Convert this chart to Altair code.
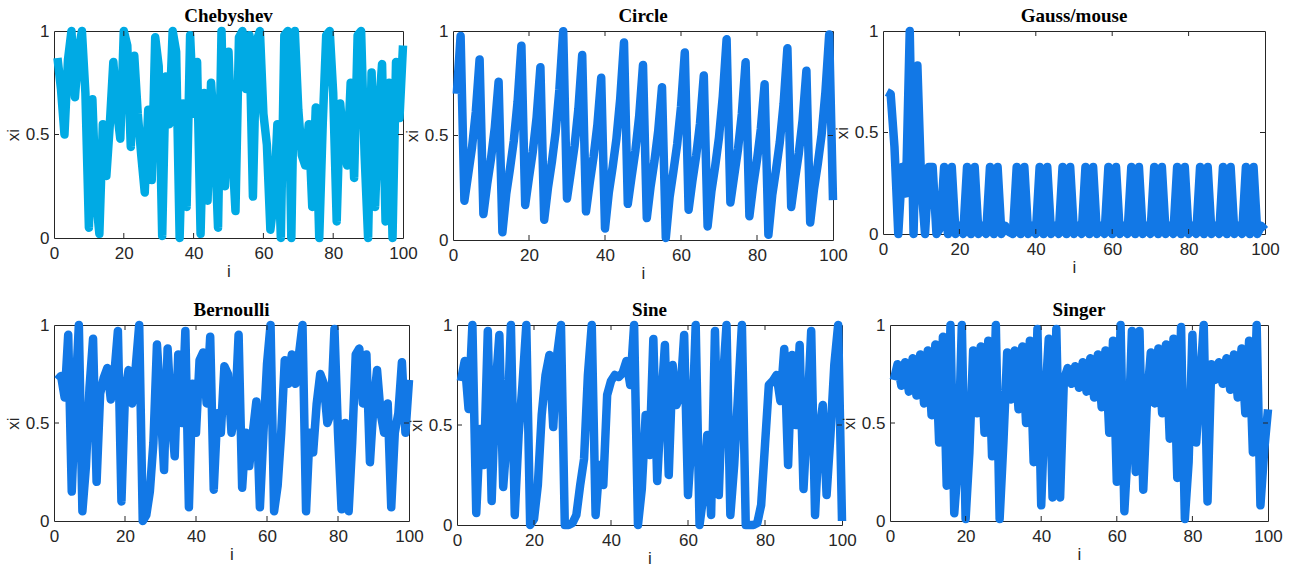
import altair as alt
import pandas as pd

idx = list(range(1, 101))

chebyshev = [
    0.87, 0.72, 0.50, 0.86, 1.00, 0.68, 0.90, 1.00, 0.70, 0.05,
    0.67, 0.20, 0.02, 0.55, 0.30, 0.55, 0.85, 0.62, 0.48, 1.00,
    0.93, 0.44, 0.88, 0.60, 0.40, 0.22, 0.62, 0.28, 0.97, 0.83,
    0.01, 0.78, 0.55, 1.00, 0.90, 0.00, 0.65, 0.15, 0.98, 0.60,
    0.85, 0.02, 0.70, 0.18, 0.75, 0.50, 0.05, 1.00, 0.25, 0.90,
    0.45, 0.13, 0.97, 1.00, 0.72, 0.98, 0.20, 0.95, 1.00, 0.60,
    0.45, 0.04, 0.18, 0.55, 0.00, 0.98, 1.00, 0.00, 1.00, 0.62,
    0.40, 0.35, 0.55, 0.15, 0.63, 0.00, 0.55, 0.98, 1.00, 0.70,
    0.08, 0.65, 0.45, 0.35, 0.75, 0.29, 0.98, 1.00, 0.40, 0.00,
    0.80, 0.15, 0.60, 0.84, 0.08, 0.75, 0.00, 0.85, 0.58, 0.93,
]

circle = [
    0.700, 0.976, 0.188, 0.315, 0.442, 0.613, 0.864, 0.124, 0.268, 0.389,
    0.538, 0.757, 0.037, 0.219, 0.341, 0.475, 0.663, 0.930, 0.168, 0.299,
    0.423, 0.586, 0.827, 0.097, 0.251, 0.371, 0.514, 0.721, 0.999, 0.199,
    0.323, 0.452, 0.628, 0.885, 0.137, 0.277, 0.399, 0.551, 0.776, 0.055,
    0.227, 0.348, 0.483, 0.675, 0.945, 0.173, 0.303, 0.428, 0.593, 0.837,
    0.105, 0.256, 0.376, 0.521, 0.731, 0.010, 0.205, 0.328, 0.458, 0.637,
    0.897, 0.145, 0.282, 0.404, 0.558, 0.787, 0.065, 0.233, 0.354, 0.491,
    0.687, 0.960, 0.180, 0.308, 0.434, 0.602, 0.850, 0.114, 0.262, 0.383,
    0.530, 0.745, 0.025, 0.213, 0.336, 0.468, 0.652, 0.917, 0.158, 0.292,
    0.415, 0.574, 0.810, 0.084, 0.244, 0.364, 0.504, 0.706, 0.983, 0.191,
]

gauss = [
    0.70, 0.69, 0.43, 0.00, 0.33, 0.20, 1.00, 0.00, 0.83, 0.25,
    0.00, 0.33, 0.33, 0.00, 0.03,
    0.33, 0.00, 0.33, 0.00, 0.04, 0.00,
    0.33, 0.00, 0.33, 0.00, 0.04, 0.00,
    0.33, 0.00, 0.33, 0.00, 0.04, 0.01, 0.00,
    0.33, 0.00, 0.33, 0.00, 0.04, 0.00,
    0.33, 0.00, 0.33, 0.00, 0.04, 0.00,
    0.33, 0.00, 0.33, 0.00, 0.04, 0.00,
    0.33, 0.00, 0.33, 0.00, 0.04, 0.00,
    0.33, 0.00, 0.33, 0.00, 0.04, 0.00,
    0.33, 0.00, 0.33, 0.00, 0.04, 0.00,
    0.33, 0.00, 0.33, 0.00, 0.04, 0.00,
    0.33, 0.00, 0.33, 0.00, 0.04, 0.00,
    0.33, 0.00, 0.33, 0.00, 0.04, 0.00,
    0.33, 0.00, 0.33, 0.00, 0.04, 0.00,
    0.33, 0.00, 0.33, 0.00, 0.04, 0.02,
]

bernoulli = [
    0.72, 0.74, 0.63, 0.95, 0.15, 0.62, 1.00, 0.05, 0.28, 0.68,
    0.93, 0.20, 0.65, 0.73, 0.78, 0.62, 0.75, 0.97, 0.10, 0.65,
    0.77, 0.60, 0.78, 1.00, 0.00, 0.03, 0.15, 0.40, 0.90, 0.60,
    0.26, 0.88, 0.55, 0.33, 0.85, 0.50, 0.97, 0.07, 0.70, 0.45,
    0.82, 0.86, 0.60, 0.94, 0.16, 0.55, 0.45, 0.79, 0.75, 0.45,
    0.55, 0.95, 0.17, 0.45, 0.28, 0.45, 0.61, 0.07, 0.45, 0.80,
    1.00, 0.05, 0.18, 0.45, 0.82, 0.70, 0.85, 0.70, 0.85, 1.00,
    0.05, 0.45, 0.35, 0.60, 0.75, 0.70, 0.50, 0.55, 0.98, 0.45,
    0.06, 0.50, 0.05, 0.40, 0.85, 0.88, 0.60, 0.85, 0.30, 0.59,
    0.77, 0.55, 0.45, 0.60, 0.07, 0.45, 0.55, 0.81, 0.45, 0.72,
]

sine = [
    0.72, 0.82, 0.58, 1.00, 0.06, 0.48, 0.30, 0.97, 0.12, 0.68,
    0.95, 0.19, 0.45, 1.00, 0.05, 0.45, 0.70, 1.00, 0.00, 0.03,
    0.20, 0.55, 0.75, 0.85, 0.49, 0.85, 1.00, 0.00, 0.00, 0.01,
    0.05, 0.20, 0.33, 0.75, 1.00, 0.05, 0.30, 0.20, 0.65, 0.72,
    0.75, 0.74, 0.76, 0.82, 0.70, 1.00, 0.00, 0.18, 0.55, 0.35,
    0.93, 0.22, 0.60, 0.90, 0.25, 0.80, 0.60, 0.65, 0.95, 0.15,
    0.45, 1.00, 0.00, 0.15, 0.45, 0.05, 0.97, 0.15, 0.70, 1.00,
    0.05, 0.30, 0.65, 1.00, 0.00, 0.00, 0.00, 0.01, 0.10, 0.40,
    0.70, 0.72, 0.75, 0.62, 0.88, 0.30, 0.85, 0.50, 0.90, 0.18,
    0.55, 0.97, 0.05, 0.45, 0.60, 0.15, 0.45, 0.80, 1.00, 0.02,
]

singer = [
    0.72, 0.80, 0.69, 0.81, 0.66, 0.83, 0.64, 0.85, 0.60, 0.87,
    0.54, 0.90, 0.40, 0.94, 0.18, 1.00, 0.04, 0.30, 1.00, 0.01,
    0.35, 0.87, 0.55, 0.89, 0.45, 0.92, 0.33, 1.00, 0.01, 0.40,
    0.86, 0.62, 0.87, 0.57, 0.89, 0.50, 0.92, 0.30, 0.98, 0.08,
    0.60, 0.93, 0.12, 0.98, 0.12, 0.72, 0.78, 0.70, 0.79, 0.68,
    0.81, 0.66, 0.83, 0.63, 0.85, 0.58, 0.87, 0.45, 0.92, 0.20,
    1.00, 0.05, 0.40, 0.97, 0.25, 0.97, 0.16, 0.62, 0.86, 0.60,
    0.88, 0.55, 0.90, 0.42, 0.93, 0.22, 0.99, 0.01, 0.30, 0.95,
    0.40, 0.70, 1.00, 0.10, 0.80, 0.72, 0.81, 0.70, 0.83, 0.67,
    0.85, 0.63, 0.88, 0.55, 0.92, 0.35, 1.00, 0.08, 0.36, 0.57,
]

for s in (chebyshev, circle, gauss, bernoulli, sine, singer):
    assert len(s) == 100, len(s)

x_ticks = [0, 20, 40, 60, 80, 100]
y_ticks = [0, 0.5, 1]
inner_x = [20, 40, 60, 80]

FONT = "Liberation Sans"
SERIF = "Liberation Serif"
INK = "#262626"
CYAN = "#00AAE4"
BLUE = "#1278E6"


def panel(name, values, color, w, h, toff):
    df = pd.DataFrame({"i": idx, "xi": values})
    xs = alt.Scale(domain=[0, 100], nice=False, zero=False)
    ys = alt.Scale(domain=[0, 1], nice=False, zero=False)
    ax_x = alt.Axis(values=x_ticks, title="i", format="d",
                    labelFlush=False, labelPadding=7, titlePadding=2)
    ax_y = alt.Axis(values=y_ticks, title="xi", format="~f",
                    labelPadding=5, titlePadding=3)
    tl_y = 5.0 / h
    tl_x = 5.0 * 100 / w
    tick_x = pd.DataFrame({
        "t": inner_x * 2,
        "a": [0] * 4 + [1] * 4,
        "b": [tl_y] * 4 + [1 - tl_y] * 4,
    })
    tick_y = pd.DataFrame({"t": [0.5, 0.5], "a": [0, 100], "b": [tl_x, 100 - tl_x]})
    line = alt.Chart(df).mark_line(
        color=color, strokeWidth=8.5, strokeJoin="round"
    ).encode(
        x=alt.X("i:Q", scale=xs, axis=ax_x),
        y=alt.Y("xi:Q", scale=ys, axis=ax_y),
    )
    rx = alt.Chart(tick_x).mark_rule(color=INK, strokeWidth=1).encode(
        x=alt.X("t:Q", scale=xs, axis=ax_x),
        y=alt.Y("a:Q", scale=ys, axis=ax_y),
        y2="b:Q",
    )
    ry = alt.Chart(tick_y).mark_rule(color=INK, strokeWidth=1).encode(
        y=alt.Y("t:Q", scale=ys, axis=ax_y),
        x=alt.X("a:Q", scale=xs, axis=ax_x),
        x2="b:Q",
    )
    return alt.layer(line, rx, ry).properties(
        width=w, height=h,
        title=alt.TitleParams(name, offset=toff),
    )


row1 = alt.hconcat(
    panel("Chebyshev", chebyshev, CYAN, 349, 207, -4),
    panel("Circle", circle, BLUE, 380, 209, -4),
    panel("Gauss/mouse", gauss, BLUE, 382, 203, -4),
    spacing=50, bounds="flush",
)
row2 = alt.hconcat(
    panel("Bernoulli", bernoulli, BLUE, 355, 196, -4),
    panel("Sine", sine, BLUE, 385, 200, -4),
    panel("Singer", singer, BLUE, 378, 196, -4),
    spacing=48, bounds="flush",
)

chart = alt.vconcat(row1, row2, spacing=18).properties(
    padding={"left": 3, "top": 6, "right": 5, "bottom": 0},
    background="white",
).configure_view(
    stroke=INK, strokeWidth=1,
).configure_axis(
    domain=False, ticks=False, tickSize=0, grid=False,
    labelFont=FONT, labelFontSize=17, labelColor=INK,
    titleFont=FONT, titleFontSize=17, titleFontWeight="normal", titleColor=INK,
).configure_title(
    font=SERIF, fontSize=19, fontWeight="bold", color="black",
    anchor="middle", frame="group",
)

chart.save("out.html", embed_options={"renderer": "svg", "actions": False})
